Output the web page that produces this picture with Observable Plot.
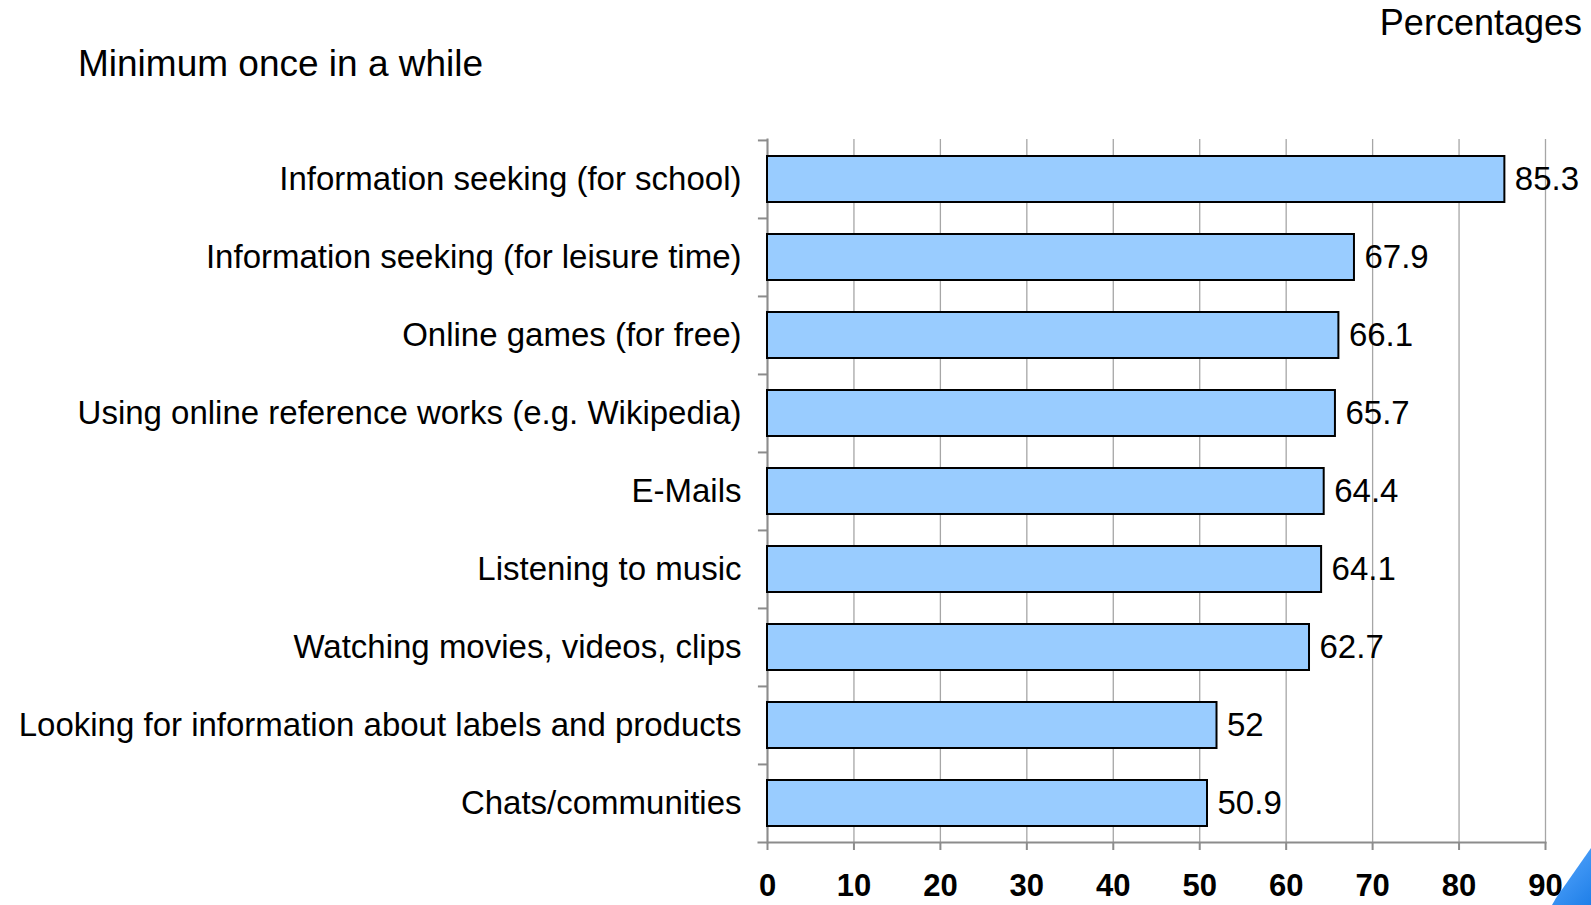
<!DOCTYPE html>
<html>
<head>
<meta charset="utf-8">
<script src="https://cdn.jsdelivr.net/npm/d3@7"></script>
<script src="https://cdn.jsdelivr.net/npm/@observablehq/plot@0.6"></script>
<style>
  html, body { margin: 0; padding: 0; background: #fff; }
  #wrap { position: relative; width: 1591px; height: 905px; overflow: hidden; font-family: "Liberation Sans", Arial, sans-serif; }
  #title { position: absolute; left: 78px; top: 45px; font-size: 37px; color: #000; white-space: nowrap; line-height: 1; }
  #unit { position: absolute; right: 9px; top: 5px; font-size: 36px; color: #000; white-space: nowrap; line-height: 1; }
  #corner { position: absolute; left: 1552px; top: 848px; width: 39px; height: 57px; background: linear-gradient(135deg, #5aa9ff, #1f7fe8); clip-path: polygon(100% 0, 100% 100%, 0 100%, 10% 88%); }
</style>
</head>
<body>
<div id="wrap">
  <div id="chart"></div>
  <div id="title">Minimum once in a while</div>
  <div id="unit">Percentages</div>
  <div id="corner"></div>
</div>
<script>
const categories = [
  "Information seeking (for school)",
  "Information seeking (for leisure time)",
  "Online games (for free)",
  "Using online reference works (e.g. Wikipedia)",
  "E-Mails",
  "Listening to music",
  "Watching movies, videos, clips",
  "Looking for information about labels and products",
  "Chats/communities"
];
const values = [85.3, 67.9, 66.1, 65.7, 64.4, 64.1, 62.7, 52, 50.9];
const valueLabels = ["85.3", "67.9", "66.1", "65.7", "64.4", "64.1", "62.7", "52", "50.9"];
const xTicks = [0, 10, 20, 30, 40, 50, 60, 70, 80, 90];

const data = categories.map((c, i) => ({category: c, value: values[i], label: valueLabels[i]}));

const W = 1591, H = 905;
const mTop = 139, mBottom = 63, mLeft = 767, mRight = 46;
const step = (H - mTop - mBottom) / categories.length;

const chart = Plot.plot({
  width: W,
  height: H,
  marginTop: mTop,
  marginBottom: mBottom,
  marginLeft: mLeft,
  marginRight: mRight,
  style: {fontFamily: "'Liberation Sans', Arial, sans-serif", background: "transparent", overflow: "visible"},
  x: {domain: [0, 90], ticks: xTicks},
  y: {domain: categories, padding: 0},
  marks: [
    Plot.gridX(xTicks, {stroke: "#a6a6a6", strokeOpacity: 1, strokeWidth: 1.3}),
    Plot.ruleY(categories, {y: d => d, x1: -1.05, x2: 0, dy: -step / 2, stroke: "#8c8c8c", strokeWidth: 2}),
    Plot.frame({anchor: "left", stroke: "#8c8c8c", strokeWidth: 2}),
    Plot.frame({anchor: "bottom", stroke: "#8c8c8c", strokeWidth: 2, insetLeft: -9}),
    Plot.barX(data, {y: "category", x: "value", fill: "#99ccff", stroke: "#000", strokeWidth: 2, insetTop: 16, insetBottom: 16}),
    Plot.text(data, {y: "category", x: "value", text: "label", textAnchor: "start", dx: 10, fontSize: 33, fill: "#000"}),
    Plot.axisY({tickSize: 0, tickPadding: 26, fontSize: 33, label: null, color: "#000"}),
    Plot.axisX(xTicks, {tickSize: 8, tickPadding: 23, fontSize: 31, fontWeight: "bold", fontFamily: "'Liberation Sans Narrow', 'Liberation Sans', Arial, sans-serif", label: null, stroke: "#8c8c8c", strokeWidth: 2, color: "#000", tickFormat: d => String(d)})
  ]
});
document.getElementById("chart").appendChild(chart);
</script>
</body>
</html>
